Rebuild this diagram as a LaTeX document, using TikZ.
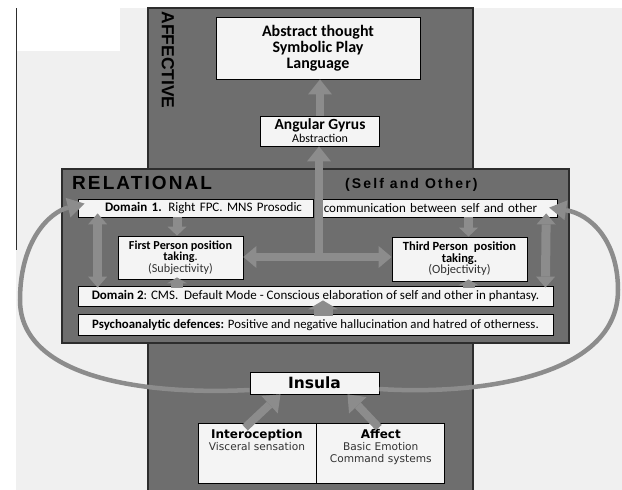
\documentclass[tikz,border=0pt]{standalone}
\usepackage{fontspec}
\setmainfont{Carlito}
\newfontfamily\hdrfont{Liberation Sans}
\newfontfamily\relfont[LetterSpace=11]{Liberation Sans}
\newfontfamily\sofont[LetterSpace=15]{Liberation Sans}
\newfontfamily\lowfont{DejaVu Sans}
\usepackage{tikz}
\usetikzlibrary{arrows.meta, positioning, calc}
\definecolor{mypage}{RGB}{240,240,240}
\definecolor{mycol}{RGB}{110,110,110}
\definecolor{myedge}{RGB}{45,45,45}
\definecolor{myarrow}{RGB}{140,140,140}
\definecolor{mybox}{RGB}{244,244,244}
\definecolor{mysub}{RGB}{50,50,50}
\tikzset{
  panel/.style={draw=myedge, fill=mycol, line width=1.6pt},
  wbox/.style={rectangle, draw=black, fill=mybox, inner sep=0pt,
    line width=0.8pt, align=center, font=\fontsize{13}{13}\selectfont},
  hdr/.style={inner sep=0pt, text=black, font=\hdrfont\bfseries\fontsize{17.5}{17.5}\selectfont},
  lowtxt/.style={inner sep=0pt, align=center, text=mysub,
    font=\lowfont\fontsize{10.6}{12}\selectfont},
  fat/.style={draw=myarrow, line width=8pt,
    -{Triangle[width=24pt,length=15pt,line width=0pt]}},
  fatdbl/.style={draw=myarrow, line width=8pt,
    {Triangle[width=22pt,length=13pt,line width=0pt]}-{Triangle[width=22pt,length=13pt,line width=0pt]}},
  sdbl/.style={draw=myarrow, line width=9pt,
    {Triangle[width=19pt,length=11pt,line width=0pt]}-{Triangle[width=19pt,length=11pt,line width=0pt]}},
  sfat/.style={draw=myarrow, line width=9pt,
    -{Triangle[width=19pt,length=9pt,line width=0pt]}},
  stub/.style={draw=myarrow, line width=12pt,
    -{Triangle[width=20pt,length=6pt,line width=0pt]}},
  stubw/.style={draw=myarrow, line width=19pt,
    -{Triangle[width=30pt,length=9pt,line width=0pt]}},
  cyc/.style={draw=myarrow, line width=4.5pt,
    -{Triangle[width=20pt,length=17pt,line width=0pt]}}
}

\begin{document}
\begin{tikzpicture}[x=1pt, y=-1pt]
  \useasboundingbox (0,0) rectangle (622,490);

  % Page
  \fill[mypage] (16,8) rectangle (622,490);
  \fill[white] (17,8) rectangle (120,51);
  \draw[myedge, line width=1pt] (16,8) -- (16,250);

  % Affective column
  \draw[panel] (148,8) rectangle (473,496);
  \node[hdr, rotate=-90] (aff) at (168,60) {AFFECTIVE};

  % Top boxes
  \node[wbox, minimum width=204pt, minimum height=62pt,
    font=\bfseries\fontsize{16}{16}\selectfont] (abs) at (318,48)
    {Abstract thought\\Symbolic Play\\Language};
  \node[wbox, minimum width=119pt, minimum height=30pt] (ang) at (320,131)
    {{\bfseries\fontsize{15.5}{14}\selectfont Angular Gyrus}\\{\fontsize{12}{12}\selectfont Abstraction}};

  % Relational panel
  \draw[panel] (62,169) rectangle (569,343);
  \node[hdr, anchor=west, font=\relfont\bfseries\fontsize{19}{19}\selectfont] (rel) at (72,183) {RELATIONAL};
  \node[hdr, anchor=west, font=\sofont\bfseries\fontsize{14}{14}\selectfont] (so) at (345,185) {(Self and Other)};

  \node[wbox, minimum width=235pt, minimum height=18pt, text width=213pt, align=right] (d1a) at (195.5,208)
    {\textbf{Domain 1.} Right FPC. MNS Prosodic};
  \node[wbox, minimum width=236pt, minimum height=18pt, text width=232pt, align=left, right=8pt of d1a] (d1b)
    {communication between self and other};
  \node[wbox, minimum width=125pt, minimum height=43pt, font=\fontsize{12.2}{11.5}\selectfont] (first) at (180.5,257.5)
    {\textbf{First Person position}\\\textbf{taking}.\\{\color{mysub}(Subjectivity)}};
  \node[wbox, minimum width=135pt, minimum height=44pt, font=\fontsize{12.5}{11.5}\selectfont] (third) at (459.5,259)
    {\textbf{Third Person\ \ position}\\\textbf{taking.}\\{\color{mysub}(Objectivity)}};
  \node[wbox, minimum width=475pt, minimum height=20pt] (d2) at (315.5,296)
    {\textbf{Domain 2}: CMS.\ \ Default Mode - Conscious elaboration of self and other in phantasy.};
  \node[wbox, minimum width=475pt, minimum height=21pt, below=8pt of d2, font=\fontsize{12.8}{13}\selectfont] (psy)
    {\textbf{Psychoanalytic defences:} Positive and negative hallucination and hatred of otherness.};

  % Bottom boxes
  \node[wbox, minimum width=129pt, minimum height=22pt,
    font=\lowfont\bfseries\fontsize{15.5}{16}\selectfont] (ins) at (314.5,383) {Insula};
  \node[wbox, minimum width=118pt, minimum height=60pt] (int) at (257,453) {};
  \node[wbox, minimum width=128pt, minimum height=60pt, right=0pt of int] (aft) {};
  \node[lowtxt, below=7pt of int.north] (inttxt)
    {{\color{black}\bfseries\fontsize{12}{12}\selectfont Interoception}\\Visceral sensation};
  \node[lowtxt, below=7pt of aft.north] (afttxt)
    {{\color{black}\bfseries\fontsize{12}{12}\selectfont Affect}\\Basic Emotion\\Command systems};

  % Arrows
  \coordinate (hub) at (319,257);
  \coordinate (fa) at ([xshift=-3.5pt]first.north);
  \coordinate (ta) at ([xshift=9pt]third.north);
  \coordinate (pa) at ([xshift=7.5pt]psy.north);
  \draw[fatdbl] (first.east |- hub) -- (third.west |- hub);
  \draw[fat] (hub) -- (hub |- ang.south);
  \draw[fat] (ang.north) -- (ang.north |- abs.south);
  \draw[sdbl] ($(d1a.south west)+(20,-4)$) -- ($(d2.north west)+(20,2)$);
  \draw[sdbl] ($(d1b.south east)+(-12,-4)$) -- ($(d2.north east)+(-8,2)$);
  \draw[sfat] (fa |- d1a.south) -- (fa);
  \draw[sfat] (ta |- d1b.south) -- (ta);
  \draw[stub] ($(fa |- d2.north)+(0,2)$) -- ($(fa |- first.south)+(0,-2)$);
  \draw[stub] ($(ta |- d2.north)+(0,2)$) -- ($(ta |- third.south)+(0,-2)$);
  \draw[stubw] ($(pa)+(0,2)$) -- ($(pa |- d2.south)+(0,-6)$);
  \draw[fat] ($(int.north)+(-12,5)$) -- ($(ins.south)+(-34,0)$);
  \draw[fat] ($(aft.north)+(-2,5)$) -- ($(ins.south)+(33,0)$);

  % Loop
  \draw[cyc] ($(ins.west)+(0,7)$) .. controls (150,395) and (20,380) .. (20,300)
    .. controls (20,240) and (50,212) .. ($(d1a.north west)+(7,5)$);
  \draw[cyc] ($(ins.east)+(0,6)$) .. controls (470,395) and (618,380) .. (618,290)
    .. controls (618,240) and (590,214) .. ($(d1b.north east)+(-9,9)$);
\end{tikzpicture}
\end{document}
